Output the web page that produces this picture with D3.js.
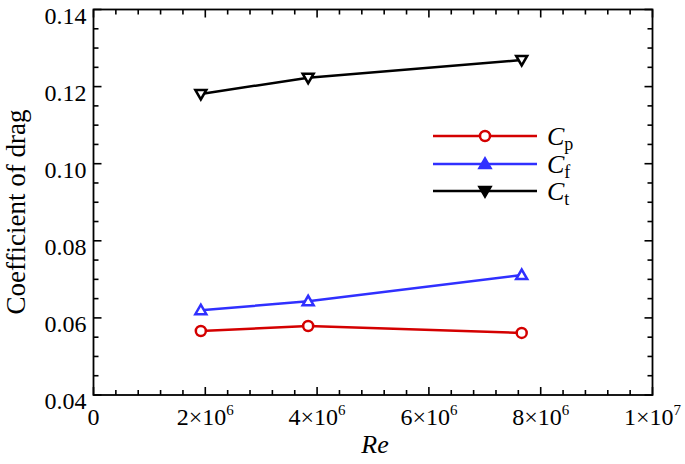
<!DOCTYPE html>
<html>
<head>
<meta charset="utf-8">
<script src="https://cdn.jsdelivr.net/npm/d3@7"></script>
<style>
  body { margin: 0; background: #fff; }
  text { font-family: "Liberation Serif", "DejaVu Serif", serif; fill: #000; }
</style>
</head>
<body>
<svg id="chart" width="685" height="464"></svg>
<script>
// Reynolds numbers of the three runs.
var reynolds = [1.92e6, 3.84e6, 7.66e6];
// Drag coefficient components.
var cpValues = [0.0566, 0.0579, 0.0561];
var cfValues = [0.0620, 0.0643, 0.0711];
var ctValues = [0.1181, 0.1223, 0.1269];

var xTicks = [0, 2e6, 4e6, 6e6, 8e6, 1e7];
var xTickLabels = [['0', ''], ['2×10', '6'], ['4×10', '6'], ['6×10', '6'],
  ['8×10', '6'], ['1×10', '7']];
var yTicks = [0.04, 0.06, 0.08, 0.10, 0.12, 0.14];
var yTickLabels = ['0.04', '0.06', '0.08', '0.10', '0.12', '0.14'];

var series = [
  {name: 'p', values: cpValues, color: '#d40000', marker: 'circle'},
  {name: 'f', values: cfValues, color: '#3030ff', marker: 'up'},
  {name: 't', values: ctValues, color: '#000000', marker: 'down'}
];

var svg = d3.select('#chart');
// plot frame (note: "top" would clash with window.top)
var frame = {left: 93.5, right: 652.5, top: 9.5, bottom: 395};

var x = d3.scaleLinear().domain([0, 1e7]).range([frame.left, frame.right]);
var y = d3.scaleLinear().domain([0.04, 0.14]).range([frame.bottom, frame.top]);

var MAJOR = 8, MINOR = 5;

/**
 * Draws inward ticks along one side of the frame.
 * @param {!Array<number>} values
 * @param {function(number): !Array<number>} pos
 */
var drawTicks = function(values, pos) {
  svg.append('g')
    .selectAll('line').data(values).enter().append('line')
    .each(function(d) {
      var p = pos(d);
      d3.select(this).attr('x1', p[0]).attr('y1', p[1])
        .attr('x2', p[2]).attr('y2', p[3]);
    })
    .attr('stroke', '#000').attr('stroke-width', 1.6);
};

var xMinor = d3.range(0, 1e7 + 1, 4e5).filter(function(v) {
  return Math.round(v / 1e5) % 20 != 0;
});
var yMinor = d3.range(0.04, 0.1401, 0.005).filter(function(v) {
  return Math.round(v * 1000) % 20 != 0;
});

var b = frame.bottom, t = frame.top, l = frame.left, r = frame.right;
// bottom and top
drawTicks(xTicks, function(d) { return [x(d), b, x(d), b - MAJOR]; });
drawTicks(xMinor, function(d) { return [x(d), b, x(d), b - MINOR]; });
drawTicks(xTicks, function(d) { return [x(d), t, x(d), t + MAJOR]; });
drawTicks(xMinor, function(d) { return [x(d), t, x(d), t + MINOR]; });
// left and right
drawTicks(yTicks, function(d) { return [l, y(d), l + MAJOR, y(d)]; });
drawTicks(yMinor, function(d) { return [l, y(d), l + MINOR, y(d)]; });
drawTicks(yTicks, function(d) { return [r, y(d), r - MAJOR, y(d)]; });
drawTicks(yMinor, function(d) { return [r, y(d), r - MINOR, y(d)]; });

// frame
svg.append('rect')
  .attr('x', l).attr('y', t)
  .attr('width', r - l).attr('height', b - t)
  .attr('fill', 'none').attr('stroke', '#000').attr('stroke-width', 1.8);

// y tick labels
svg.append('g').selectAll('text').data(yTicks).enter().append('text')
  .attr('x', l - 7)
  .attr('y', function(d) { return y(d) + 14; })
  .attr('text-anchor', 'end')
  .style('font-size', '24px')
  .text(function(d, i) { return yTickLabels[i]; });

// x tick labels, with superscript exponent
var xl = svg.append('g').selectAll('text').data(xTicks).enter().append('text')
  .attr('x', function(d) { return x(d); })
  .attr('y', 425)
  .attr('text-anchor', 'middle')
  .style('font-size', '24px');
xl.append('tspan').text(function(d, i) { return xTickLabels[i][0]; });
xl.append('tspan')
  .attr('dy', -10)
  .style('font-size', '15px')
  .text(function(d, i) { return xTickLabels[i][1]; });

// axis titles
svg.append('text')
  .attr('x', x(5e6) + 2).attr('y', 453)
  .attr('text-anchor', 'middle')
  .style('font-size', '26px').style('font-style', 'italic')
  .text('Re');

svg.append('text')
  .attr('transform', 'translate(25,212) rotate(-90)')
  .attr('text-anchor', 'middle')
  .style('font-size', '27px')
  .text('Coefficient of drag');

/**
 * Draws one marker at (cx, cy).
 */
var drawMarker = function(g, type, cx, cy, color, fill) {
  if (type == 'circle') {
    g.append('circle').attr('cx', cx).attr('cy', cy).attr('r', 5)
      .attr('fill', '#fff').attr('stroke', color).attr('stroke-width', 2.5);
    return;
  }
  var s = type == 'up' ? 1 : -1;
  var pts = [[cx - 5.5, cy + s * 4], [cx + 5.5, cy + s * 4], [cx, cy - s * 5.5]];
  g.append('path')
    .attr('d', d3.line().curve(d3.curveLinearClosed)(pts))
    .attr('fill', fill).attr('stroke', color).attr('stroke-width', 2.5);
};

var line = d3.line()
  .x(function(d, i) { return x(reynolds[i]); })
  .y(function(d) { return y(d); });

series.forEach(function(s) {
  var g = svg.append('g');
  g.append('path').datum(s.values)
    .attr('d', line)
    .attr('fill', 'none').attr('stroke', s.color).attr('stroke-width', 2.5);
  s.values.forEach(function(v, i) {
    drawMarker(g, s.marker, x(reynolds[i]), y(v), s.color, '#fff');
  });
});

// legend
var legendY = [136, 164, 191];
series.forEach(function(s, i) {
  var g = svg.append('g');
  var ly = legendY[i];
  g.append('line')
    .attr('x1', 433).attr('x2', 537).attr('y1', ly).attr('y2', ly)
    .attr('stroke', s.color).attr('stroke-width', 2.5);
  drawMarker(g, s.marker, 485, ly, s.color,
    s.marker == 'circle' ? '#fff' : s.color);
  var txt = g.append('text').attr('x', 547).attr('y', ly + 9)
    .style('font-size', '26px');
  txt.append('tspan').style('font-style', 'italic').text('C');
  txt.append('tspan').attr('dy', 5).style('font-size', '18px').text(s.name);
});
</script>
</body>
</html>
